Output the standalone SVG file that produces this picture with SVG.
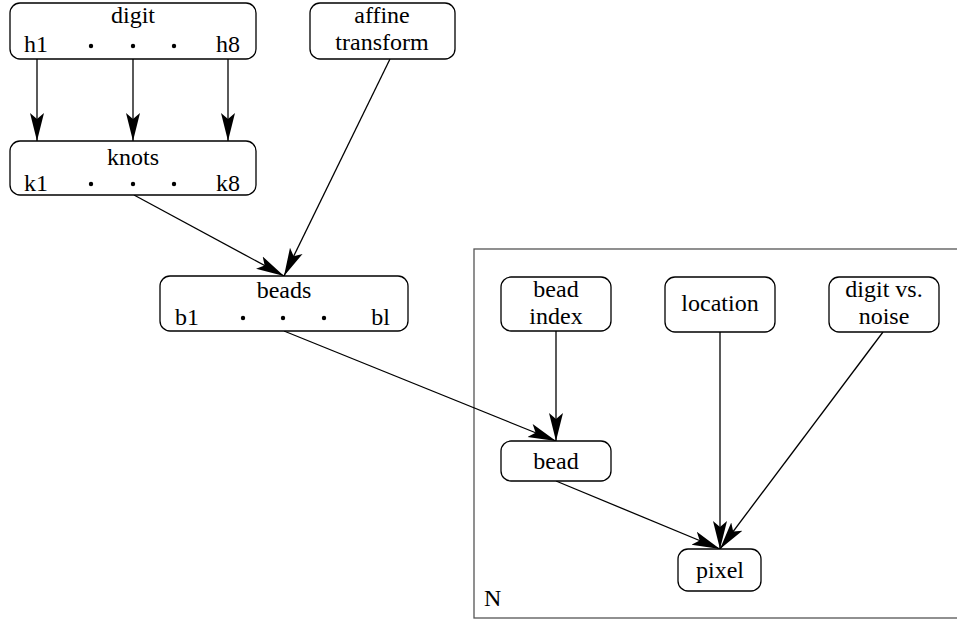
<svg xmlns="http://www.w3.org/2000/svg" width="957" height="622" viewBox="0 0 957 622">
<style>
.t{font-family:"Liberation Serif","Times New Roman",serif;font-size:24px;fill:#000}
.c{text-anchor:middle}
.e{text-anchor:end}
.box{fill:#fff;stroke:#000;stroke-width:1.3}
.edge{fill:none;stroke:#000;stroke-width:1.3}
.plate{fill:none;stroke:#555;stroke-width:1.3}
</style>
<defs>
<marker id="ah" markerUnits="userSpaceOnUse" markerWidth="30" markerHeight="16" refX="28" refY="8" viewBox="0 0 30 16" orient="auto">
<path d="M28,8 L0,1 L6,8 L0,15 Z" fill="#000"/>
</marker>
</defs>
<rect class="plate" x="474" y="249" width="500" height="369"/>
<text class="t" x="484" y="606">N</text>
<g id="connectors">
<line class="edge" x1="37" y1="59" x2="37" y2="141" marker-end="url(#ah)"/>
<line class="edge" x1="133" y1="59" x2="133" y2="141" marker-end="url(#ah)"/>
<line class="edge" x1="228" y1="59" x2="228" y2="141" marker-end="url(#ah)"/>
<line class="edge" x1="134" y1="195" x2="284" y2="276" marker-end="url(#ah)"/>
<line class="edge" x1="390" y1="59" x2="284" y2="276" marker-end="url(#ah)"/>
<line class="edge" x1="284" y1="331" x2="556" y2="441" marker-end="url(#ah)"/>
<line class="edge" x1="556" y1="331" x2="556" y2="441" marker-end="url(#ah)"/>
<line class="edge" x1="720" y1="332" x2="720" y2="549" marker-end="url(#ah)"/>
<line class="edge" x1="883" y1="332" x2="720" y2="549" marker-end="url(#ah)"/>
<line class="edge" x1="556" y1="481" x2="720" y2="549" marker-end="url(#ah)"/>
</g>
<g id="digit">
<rect class="box" x="10" y="3" width="246" height="56" rx="10"/>
<text class="t c" x="133" y="23">digit</text>
<text class="t" x="24" y="52">h1</text>
<text class="t e" x="240" y="52">h8</text>
<circle cx="91" cy="46" r="2.2"/><circle cx="133" cy="46" r="2.2"/><circle cx="174" cy="46" r="2.2"/>
</g>
<g id="affine">
<rect class="box" x="310" y="3" width="145" height="56" rx="10"/>
<text class="t c" x="382" y="23">affine</text>
<text class="t c" x="382" y="50">transform</text>
</g>
<g id="knots">
<rect class="box" x="10" y="141" width="246" height="54" rx="10"/>
<text class="t c" x="133" y="165">knots</text>
<text class="t" x="24" y="191">k1</text>
<text class="t e" x="240" y="191">k8</text>
<circle cx="91" cy="184" r="2.2"/><circle cx="133" cy="184" r="2.2"/><circle cx="174" cy="184" r="2.2"/>
</g>
<g id="beads">
<rect class="box" x="160" y="276" width="248" height="55" rx="10"/>
<text class="t c" x="284" y="298">beads</text>
<text class="t" x="175" y="325">b1</text>
<text class="t e" x="390" y="325">bl</text>
<circle cx="243" cy="318" r="2.2"/><circle cx="283" cy="318" r="2.2"/><circle cx="324" cy="318" r="2.2"/>
</g>
<g id="bead_index">
<rect class="box" x="501" y="277" width="110" height="54" rx="10"/>
<text class="t c" x="556" y="297">bead</text>
<text class="t c" x="556" y="324">index</text>
</g>
<g id="location">
<rect class="box" x="665" y="277" width="110" height="55" rx="10"/>
<text class="t c" x="720" y="311">location</text>
</g>
<g id="digit_vs_noise">
<rect class="box" x="829" y="277" width="110" height="55" rx="10"/>
<text class="t c" x="884" y="297">digit vs.</text>
<text class="t c" x="884" y="324">noise</text>
</g>
<g id="bead">
<rect class="box" x="501" y="441" width="110" height="40" rx="10"/>
<text class="t c" x="556" y="469">bead</text>
</g>
<g id="pixel">
<rect class="box" x="678" y="549" width="83" height="42" rx="10"/>
<text class="t c" x="720" y="578">pixel</text>
</g>
</svg>
